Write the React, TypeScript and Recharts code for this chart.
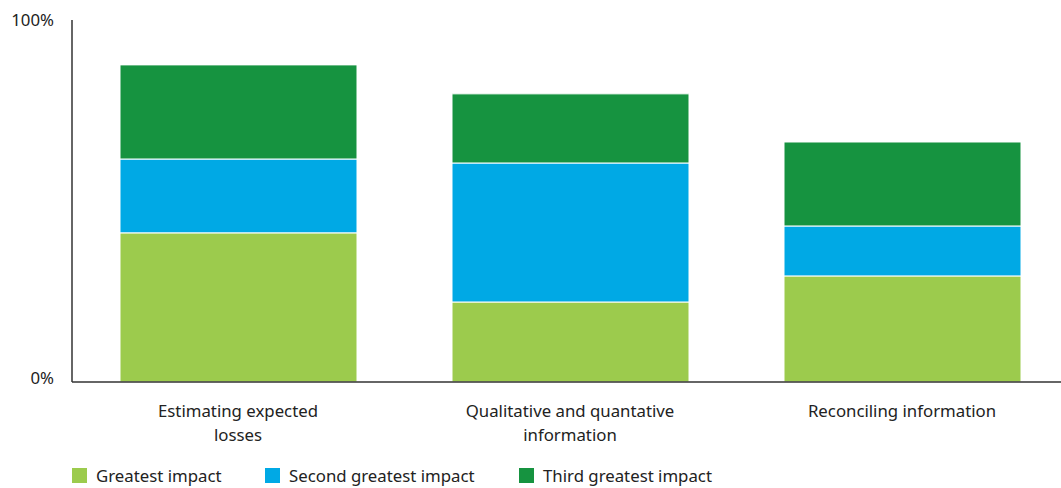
import React from "react";
import { BarChart, Bar, XAxis, YAxis } from "recharts";

const categories = ["Estimating expected losses", "Qualitative and quantative information", "Reconciling information"];
const categoryLines = [["Estimating expected", "losses"], ["Qualitative and quantative", "information"], ["Reconciling information"]];
const greatest = [41.2, 22.1, 29.3];
const second = [20.4, 38.4, 13.8];
const third = [26.0, 19.1, 23.2];
const seriesNames = ["Greatest impact", "Second greatest impact", "Third greatest impact"];
const colors = ["#9ccb4d", "#00a9e5", "#169340"];
const yTicks = [0, 100];

const data = categories.map((c, i) => ({
  name: c,
  g: greatest[i],
  s: second[i],
  t: third[i],
}));

const FONT = "'Noto Sans', 'Open Sans', sans-serif";
const FS = 16.8;

const XTick = (props: any) => {
  const { x, y, payload } = props;
  const lines = categoryLines[payload.index] || [payload.value];
  return (
    <g>
      {lines.map((l: string, i: number) => (
        <text key={i} x={x} y={y + 27 + i * 24} textAnchor="middle" fontSize={FS} fill="#222" fontFamily={FONT}>
          {l}
        </text>
      ))}
    </g>
  );
};

const YTick = (props: any) => {
  const { y, payload } = props;
  return (
    <text x={54} y={y + 6 - (payload.value === 0 ? 4 : 0)} textAnchor="end" fontSize={FS} fill="#222" fontFamily={FONT}>
      {payload.value}%
    </text>
  );
};

const legendOffsets = [72, 265, 519];

export default function App() {
  return (
    <div style={{ position: "absolute", left: 0, top: 0, width: 1061, height: 488, overflow: "hidden", background: "#fff" }}>
      <BarChart width={1069} height={488} data={data} margin={{ top: 20, right: 1, bottom: 76, left: 0 }}>
        <XAxis dataKey="name" tick={<XTick />} tickLine={false} axisLine={{ stroke: "#333", strokeWidth: 1.5 }} interval={0} />
        <YAxis domain={[0, 100]} ticks={yTicks} width={72} tick={<YTick />} tickLine={false} axisLine={{ stroke: "#333", strokeWidth: 1.5 }} />
        <Bar dataKey="g" name={seriesNames[0]} stackId="a" fill={colors[0]} stroke="#fff" strokeWidth={1} barSize={237} isAnimationActive={false} />
        <Bar dataKey="s" name={seriesNames[1]} stackId="a" fill={colors[1]} stroke="#fff" strokeWidth={1} barSize={237} isAnimationActive={false} />
        <Bar dataKey="t" name={seriesNames[2]} stackId="a" fill={colors[2]} stroke="#fff" strokeWidth={1} barSize={237} isAnimationActive={false} />
      </BarChart>
      {seriesNames.map((n, i) => (
        <div key={n} style={{ position: "absolute", left: legendOffsets[i], top: 463, height: 24, display: "flex", alignItems: "center", fontFamily: FONT, fontSize: FS, color: "#222", whiteSpace: "nowrap" }}>
          <span style={{ display: "inline-block", width: 15, height: 15, background: colors[i], marginRight: 9 }} />
          <span>{n}</span>
        </div>
      ))}
    </div>
  );
}
